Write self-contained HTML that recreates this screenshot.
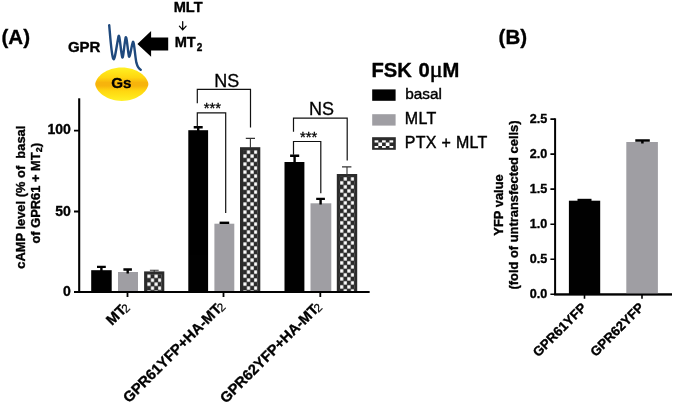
<!DOCTYPE html>
<html lang="en">
<head>
<meta charset="utf-8">
<title>Figure</title>
<style>
html,body{margin:0;padding:0;background:#fff;}
body{width:675px;height:405px;overflow:hidden;}
svg{display:block;will-change:transform;opacity:0.999;}
text{font-family:"Liberation Sans",Arial,Helvetica,sans-serif;fill:#000;}
.b{font-weight:bold;stroke:#000;stroke-width:0.35px;stroke-linejoin:round;}
</style>
</head>
<body>
<svg width="675" height="405" viewBox="0 0 675 405">
<defs>
  <linearGradient id="gs" x1="0" y1="0" x2="0" y2="1">
    <stop offset="0" stop-color="#fff02a"/>
    <stop offset="0.12" stop-color="#ffe71a"/>
    <stop offset="0.3" stop-color="#ffd610"/>
    <stop offset="0.45" stop-color="#f7b40c"/><stop offset="0.55" stop-color="#f7b40c"/>
    <stop offset="0.7" stop-color="#ffd610"/>
    <stop offset="0.88" stop-color="#ffe61a"/>
    <stop offset="1" stop-color="#fff02a"/>
  </linearGradient>
  <pattern id="chk1" x="143.5" y="274.2" width="7.2" height="8" patternUnits="userSpaceOnUse">
    <rect width="7.2" height="8" fill="#2b2b2b"/><rect x="3.8" y="0.3" width="3.2" height="3.4" fill="#fff"/><rect x="0.2" y="4.3" width="3.2" height="3.4" fill="#fff"/>
  </pattern>
  <pattern id="chk2" x="243.1" y="150.1" width="7.2" height="8" patternUnits="userSpaceOnUse">
    <rect width="7.2" height="8" fill="#2b2b2b"/><rect x="3.8" y="0.3" width="3.2" height="3.4" fill="#fff"/><rect x="0.2" y="4.3" width="3.2" height="3.4" fill="#fff"/>
  </pattern>
  <pattern id="chk3" x="339.9" y="176.9" width="7.2" height="8" patternUnits="userSpaceOnUse">
    <rect width="7.2" height="8" fill="#2b2b2b"/><rect x="3.8" y="0.3" width="3.2" height="3.4" fill="#fff"/><rect x="0.2" y="4.3" width="3.2" height="3.4" fill="#fff"/>
  </pattern>
</defs>
<rect width="675" height="405" fill="#fff"/>

<!-- panel labels -->
<text class="b" x="1.5" y="44" font-size="20.5">(A)</text>
<text class="b" x="498.6" y="44" font-size="20.5">(B)</text>

<!-- schematic -->
<text class="b" x="173.7" y="12" font-size="14.6">MLT</text>
<g stroke="#000" stroke-width="1.25" fill="none" stroke-linecap="round">
  <path d="M182.7 21.5V29.6M179.4 26.1L182.7 29.8L186.1 26.1"/>
</g>
<text class="b" x="174.7" y="46.7" font-size="14.6">MT<tspan font-size="10" dx="1" dy="4">2</tspan></text>
<text class="b" x="67.9" y="51.5" font-size="15">GPR</text>
<path d="M109.2 25.1 C110.2 36 111.2 52 113 58.2 C114.6 62.5 115.6 52 118.5 36.2 C119.6 33 120.6 50 122.2 57 C123.2 60 124 46 125.6 37.6 C126.8 35 127.6 50 128.9 56.3 C129.9 59 131.4 46 132.9 42 C134 40 134.8 54 136.3 62.4 C137.4 66.5 139 69 140.8 69.8" fill="none" stroke="#1f497d" stroke-width="2.4" stroke-linecap="round" stroke-linejoin="round"/>
<path d="M137.4 43.9L151.1 31V37.6H168.2V50.5H151.1V56.8Z" fill="#000"/>
<path d="M95.2 84.1C95.8 76.8 106.4 67.4 121.8 67.4C137.2 67.4 147.8 76.8 148.4 84.1C147.8 91.5 137.2 100.9 121.8 100.9C106.4 100.9 95.8 91.5 95.2 84.1Z" fill="url(#gs)"/>
<text class="b" x="111.3" y="88.4" font-size="15.2">Gs</text>

<!-- Chart A axes -->
<g stroke="#000" stroke-width="2.1" fill="none">
  <path d="M79.2 98.3V293"/>
  <path d="M78.2 292H369.4"/>
</g>
<g stroke="#000" stroke-width="1.8" fill="none">
  <path d="M74 130.7H79M74 211.5H79M74 292H79"/>
  <path d="M127.5 292V297M223.5 292V297M320.3 292V297"/>
</g>
<g class="b" font-size="14" text-anchor="end">
  <text x="70.8" y="134.3">100</text>
  <text x="70.8" y="215.7">50</text>
  <text x="70.8" y="296.1">0</text>
</g>
<g class="b" font-size="12.9" text-anchor="middle">
  <text transform="translate(24.5 197.2) rotate(-90)" xml:space="preserve">cAMP level (% of  basal</text>
  <text transform="translate(39.5 193.3) rotate(-90)">of GPR61 + MT<tspan font-size="9" dy="2.5">2</tspan><tspan dy="-2.5">)</tspan></text>
</g>

<!-- Chart A bars -->
<g fill="#000">
  <rect x="91.2" y="270.2" width="20.5" height="21.8"/>
  <rect x="188.3" y="130.2" width="19.8" height="161.8"/>
  <rect x="284.5" y="162" width="19.9" height="130"/>
</g>
<g fill="#9f9ea3">
  <rect x="118" y="272" width="20" height="20"/>
  <rect x="214.4" y="223.7" width="19.9" height="68.3"/>
  <rect x="310.5" y="203.3" width="20.8" height="88.7"/>
</g>
<g fill="#2b2b2b">
  <rect x="144.1" y="271.4" width="20.2" height="20.6"/>
  <rect x="240" y="147.2" width="20.3" height="144.8"/>
  <rect x="336.8" y="174" width="20.4" height="118"/>
</g>
<rect x="147.1" y="274.2" width="14.4" height="17.8" fill="url(#chk1)"/>
<rect x="243.1" y="150.1" width="14.4" height="141.9" fill="url(#chk2)"/>
<rect x="339.9" y="176.9" width="14.4" height="115.1" fill="url(#chk3)"/>
<path d="M78.2 292H369.4" stroke="#000" stroke-width="2.1"/>

<!-- error bars A -->
<g stroke="#000" stroke-width="2.4" fill="none">
  <path d="M101.4 271V266.8M97 266.9H105.8"/>
  <path d="M198.2 131V127M193.7 127.3H202.7"/>
  <path d="M294.6 163V155.5M290.1 155.7H299.2"/>
  <path d="M127.7 273.6V269.4M123.4 269.5H131.9"/>
  <path d="M219.6 222.8H229.2"/>
  <path d="M320.6 204.5V198.6M316.2 198.9H324.9"/>
</g>
<g stroke="#333" stroke-width="1.1" fill="none">
  <path d="M154.2 272V270.2M149.9 270.2H158.7"/>
  <path d="M250.4 148V138.4M245.8 138.4H255"/>
  <path d="M347 175V166.9M342 166.9H351.4"/>
</g>

<!-- significance brackets -->
<g stroke="#111" stroke-width="1.2" fill="none">
  <path d="M197.3 103.3V89.4H250.5V127.5"/>
  <path d="M197.3 126.5V112.8H225.7V213"/>
  <path d="M293.5 131.7V118.2H347.2V160.5"/>
  <path d="M293.5 154.8V141.5H320.8V193.3"/>
</g>
<g stroke="#000" stroke-width="0.3">
<text x="226.8" y="87" font-size="18" text-anchor="middle">NS</text>
<text x="321.5" y="115.4" font-size="18" text-anchor="middle">NS</text>
<text x="212.4" y="113.3" font-size="14.8" text-anchor="middle">***</text>
<text x="308.6" y="141.8" font-size="14.8" text-anchor="middle">***</text>
</g>

<!-- x labels A -->
<g class="b" font-size="14.65" text-anchor="end">
  <text transform="translate(130 308) rotate(-45)">MT<tspan font-weight="normal" stroke-width="0.2" font-size="11.8" dx="-2.4" dy="1.2">2</tspan></text>
  <text transform="translate(225.5 307) rotate(-45)">GPR61YFP+HA-MT<tspan font-weight="normal" stroke-width="0.2" font-size="11.8" dx="-2.4" dy="1.2">2</tspan></text>
  <text transform="translate(322.3 307.5) rotate(-45)">GPR62YFP+HA-MT<tspan font-weight="normal" stroke-width="0.2" font-size="11.8" dx="-2.4" dy="1.2">2</tspan></text>
</g>

<!-- legend -->
<text class="b" x="371.5" y="77.2" font-size="20.2">FSK<tspan dx="6.6">0</tspan><tspan font-family="'Liberation Serif','DejaVu Serif',serif" font-weight="normal" font-size="24" stroke-width="0.5">μ</tspan>M</text>
<rect x="372.2" y="89.4" width="23.4" height="11.4" fill="#000"/>
<rect x="372.2" y="114.2" width="23.4" height="11.4" fill="#9f9ea3"/>
<rect x="372.1" y="137.2" width="23.7" height="12.6" fill="#2b2b2b"/>
<g fill="#fff">
<rect x="374.60" y="140.3" width="3.72" height="2.2"/>
<rect x="374.60" y="146" width="3.72" height="1.9"/>
<rect x="382.04" y="140.3" width="3.72" height="2.2"/>
<rect x="382.04" y="146" width="3.72" height="1.9"/>
<rect x="389.48" y="140.3" width="3.72" height="2.2"/>
<rect x="389.48" y="146" width="3.72" height="1.9"/>
<rect x="378.32" y="142.5" width="3.72" height="3.5"/>
<rect x="385.76" y="142.5" width="3.72" height="3.5"/>
</g>
<g font-size="16" stroke="#000" stroke-width="0.4" letter-spacing="0.3">
  <text x="405.2" y="99" font-size="15.4" letter-spacing="0">basal</text>
  <text x="404.8" y="123.8">MLT</text>
  <text x="404.8" y="148.1">PTX + MLT</text>
</g>

<!-- Chart B -->
<g stroke="#000" stroke-width="2" fill="none">
  <path d="M555.1 118.3V295"/>
  <path d="M554.1 294.4H672"/>
</g>
<g stroke="#000" stroke-width="1.6" fill="none">
  <path d="M550.4 119.1H555M550.4 154.1H555M550.4 189.1H555M550.4 224.2H555M550.4 259.2H555M550.4 294.2H555"/>
  <path d="M584.5 294V298.7M642 294V298.7"/>
</g>
<g class="b" font-size="12.6" text-anchor="end">
  <text x="547.2" y="122.7">2.5</text>
  <text x="547.2" y="157.7">2.0</text>
  <text x="547.2" y="192.7">1.5</text>
  <text x="547.2" y="227.8">1.0</text>
  <text x="547.2" y="262.8">0.5</text>
  <text x="547.2" y="297.8">0.0</text>
</g>
<rect x="568.9" y="200.7" width="31.3" height="93.3" fill="#000"/>
<rect x="626.3" y="142" width="31.6" height="152" fill="#9f9ea3"/>
<path d="M554.1 294.4H672" stroke="#000" stroke-width="1.9"/>
<g stroke="#000" stroke-width="2.2" fill="none">
  <path d="M577.5 199.9H591.5"/>
  <path d="M642.4 143.6V140.4M635.3 140.4H649.8" stroke-width="2.5"/>
</g>
<g class="b" font-size="12.9" text-anchor="middle">
  <text transform="translate(502.5 205) rotate(-90)">YFP value</text>
  <text transform="translate(518 205) rotate(-90)">(fold of untransfected cells)</text>
</g>
<g class="b" font-size="13.25" stroke-width="0.25" text-anchor="end">
  <text transform="translate(587.2 308.5) rotate(-45)">GPR61YFP</text>
  <text transform="translate(644.7 308.3) rotate(-45)">GPR62YFP</text>
</g>
</svg>
</body>
</html>
